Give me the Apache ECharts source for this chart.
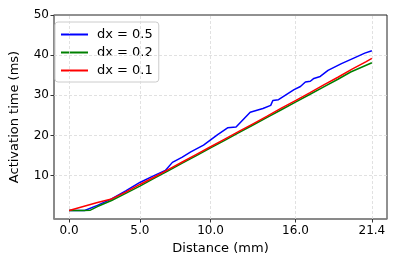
<!DOCTYPE html>
<html><head><meta charset="utf-8">
<script src="https://cdn.jsdelivr.net/npm/echarts@6/dist/echarts.min.js"></script>
<style>html,body{margin:0;padding:0;background:#fff}#c{width:397px;height:264px}</style>
</head><body><div id="c"></div>
<script>
const seriesNames = ['dx = 0.5', 'dx = 0.2', 'dx = 0.1'];
const blueX = [0, 1.1, 2, 3, 4, 5, 6, 6.8, 7.3, 8, 8.6, 9.5, 10, 10.5, 11.2, 11.8, 12.8, 13.7, 14.25, 14.4, 14.8, 15.9, 16.35, 16.7, 17.05, 17.3, 17.75, 18.3, 19.25, 20.2, 20.9, 21.4];
const blueY = [1.3, 1.3, 2.6, 4.2, 6.2, 8.3, 10.0, 11.3, 13.3, 14.6, 15.9, 17.6, 18.9, 20.2, 21.9, 22.1, 25.8, 26.7, 27.5, 28.7, 28.9, 31.4, 32.2, 33.3, 33.5, 34.2, 34.7, 36.2, 37.9, 39.4, 40.5, 41.1];
const greenX = [0, 1, 1.5, 2, 3, 4, 5, 6, 7, 8, 9, 10, 11, 12, 13, 14, 15, 16, 17, 18, 19, 19.9, 21.4];
const greenY = [1.3, 1.3, 1.4, 2.3, 3.8, 5.6, 7.4, 9.3, 11.2, 13.1, 15.0, 16.9, 18.8, 20.7, 22.6, 24.5, 26.4, 28.3, 30.2, 32.1, 34.0, 35.8, 38.1];
const redX = [0, 1, 2, 3, 4, 5, 6, 7, 8, 9, 10, 11, 12, 13, 14, 15, 16, 17, 18, 19, 20, 21, 21.4];
const redY = [1.3, 2.3, 3.3, 4.2, 5.9, 7.8, 9.6, 11.5, 13.4, 15.3, 17.2, 19.1, 21.0, 22.9, 24.8, 26.8, 28.7, 30.6, 32.6, 34.5, 36.5, 38.4, 39.2];
const xTicks = [0, 5, 10, 16, 21.4];
const yTicks = [10, 20, 30, 40, 50];

const zip = (xs, ys) => xs.map((x, i) => [x, ys[i]]);
const font = 'DejaVu Sans';
const chart = echarts.init(document.getElementById('c'), null, {renderer: 'canvas'});
const gridStyle = {color: '#d9d9d9', type: [3, 2], width: 0.8};
chart.setOption({
  animation: false,
  textStyle: {fontFamily: font},
  grid: {left: 49, right: 10, top: 15, bottom: 45, show: true, borderColor: '#222', borderWidth: 1},
  legend: {
    data: seriesNames, orient: 'vertical', left: 55, top: 22,
    icon: 'rect', itemWidth: 27, itemHeight: 2, itemGap: 5,
    textStyle: {fontFamily: font, fontSize: 13, color: '#000', padding: [0, 0, 0, 4]},
    borderColor: '#cccccc', borderWidth: 1, borderRadius: 3, padding: [6, 6, 5, 6],
    backgroundColor: 'rgba(255,255,255,0.8)'
  },
  xAxis: {
    type: 'value', min: -1.07, max: 22.47,
    name: 'Distance (mm)', nameLocation: 'middle', nameGap: 23,
    nameTextStyle: {fontFamily: font, fontSize: 13, color: '#000'},
    axisLine: {onZero: false, lineStyle: {color: '#888', width: 1.5}},
    axisTick: {show: true, customValues: xTicks, length: 3.5, lineStyle: {color: '#333'}},
    axisLabel: {customValues: xTicks, formatter: v => v.toFixed(1), fontFamily: font, fontSize: 12, color: '#000', margin: 6},
    splitLine: {show: false}
  },
  yAxis: {
    type: 'value', min: -0.8, max: 50,
    name: 'Activation time (ms)', nameLocation: 'middle', nameGap: 33,
    nameTextStyle: {fontFamily: font, fontSize: 13, color: '#000'},
    axisLine: {show: true, onZero: false, lineStyle: {color: '#888', width: 1.5}},
    axisTick: {show: true, customValues: yTicks, length: 3.5, lineStyle: {color: '#333'}},
    axisLabel: {customValues: yTicks, fontFamily: font, fontSize: 12, color: '#000', margin: 5},
    splitLine: {show: false}
  },
  series: [
    {name: seriesNames[0], type: 'line', data: zip(blueX, blueY), showSymbol: false, lineStyle: {color: '#0000ff', width: 1.5}, itemStyle: {color: '#0000ff'}, z: 5,
     markLine: {silent: true, symbol: 'none', label: {show: false}, lineStyle: gridStyle, animation: false,
       data: xTicks.map(v => ({xAxis: v})).concat(yTicks.slice(0, 4).map(v => ({yAxis: v})))}},
    {name: seriesNames[1], type: 'line', data: zip(greenX, greenY), showSymbol: false, lineStyle: {color: '#008000', width: 1.5}, itemStyle: {color: '#008000'}, z: 6},
    {name: seriesNames[2], type: 'line', data: zip(redX, redY), showSymbol: false, lineStyle: {color: '#ff0000', width: 1.5}, itemStyle: {color: '#ff0000'}, z: 7}
  ]
});
</script></body></html>
